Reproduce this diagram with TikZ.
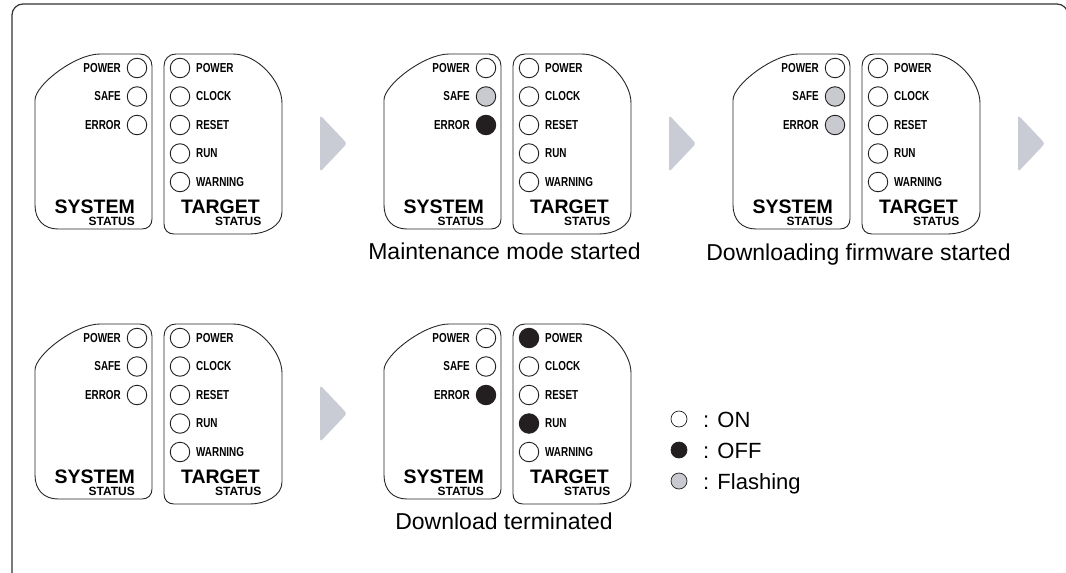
\documentclass[tikz,border=0pt]{standalone}
\usepackage{fontspec}
\setmainfont{Liberation Sans}
\usepackage{graphicx}
\definecolor{ledblack}{HTML}{231F20}
\definecolor{ledgrey}{HTML}{C8CAD0}
\definecolor{arrowgrey}{HTML}{C9CCD4}
\definecolor{ledline}{HTML}{231F20}
\newcommand\fsz[1]{\fontsize{#1}{#1}\selectfont}
\newcommand\nar[1]{\scalebox{0.76}[1]{#1}}
\tikzset{
  panel/.style={draw=black!85, line width=0.9pt},
  led/.style={circle, draw=ledline, line width=0.9pt, minimum size=19.5pt, inner sep=0pt},
  lbl/.style={inner sep=0pt, font=\bfseries\fsz{13}},
  bigtext/.style={inner sep=0pt, font=\bfseries\fsz{19.5}},
  stattext/.style={inner sep=0pt, font=\bfseries\fsz{12}},
  captext/.style={inner sep=0pt, font=\fsz{23}},
  legtext/.style={inner sep=0pt, font=\fsz{22}, anchor=base west},
  legled/.style={circle, draw=ledline, line width=0.7pt, minimum size=16pt, inner sep=0pt},
  nextarrow/.style={fill=arrowgrey, rounded corners=3pt},
  frame/.style={draw=black!80, line width=1.2pt, rounded corners=11pt},
}
\newcommand\statusgroup[5]{%
\begin{scope}[shift={(#2,#3)}]
\draw[panel] (35,100) .. controls (35,85) and (75,54) .. (100,54) -- (140,54) .. controls (147,54) and (152,59) .. (152,66) -- (152,219) .. controls (152,225) and (148,229) .. (142,229) -- (58,229) .. controls (44,229) and (35,220) .. (35,205) -- cycle;
\draw[panel] (164,66) .. controls (164,59) and (169,54) .. (176,54) -- (233,54) .. controls (258,54) and (282,82) .. (282,103) -- (282,212) .. controls (282,226) and (265,234) .. (250,234) -- (174,234) .. controls (168,234) and (164,230) .. (164,224) -- cycle;
\foreach \c [count=\i] in {#4} {\node[led,fill=\c] (#1s\i) at (137,{68+28.5*(\i-1)}) {};}
\foreach \lbltxt [count=\i] in {POWER,SAFE,ERROR} {\node[lbl,anchor=east] (#1sl\i) at (121,{68+28.5*(\i-1)}) {\nar{\lbltxt}};}
\foreach \c [count=\i] in {#5} {\node[led,fill=\c] (#1t\i) at (180,{68+28.5*(\i-1)}) {};}
\foreach \lbltxt [count=\i] in {POWER,CLOCK,RESET,RUN,WARNING} {\node[lbl,anchor=west] (#1tl\i) at (196,{68+28.5*(\i-1)}) {\nar{\lbltxt}};}
\node[bigtext,anchor=base east] (#1sys) at (135,213) {SYSTEM};
\node[stattext,anchor=base east] (#1sst) at (135,225) {STATUS};
\node[bigtext,anchor=base east] (#1tgt) at (260,213) {TARGET};
\node[stattext,anchor=base east] (#1tst) at (261.5,225.5) {STATUS};
\end{scope}}
\begin{document}
\begin{tikzpicture}[x=1pt,y=-1pt]
\useasboundingbox (0,0) rectangle (1066,573);
\clip (0,0) rectangle (1066,573);
\fill[white] (0,0) rectangle (1066,573);
\draw[frame] (12,600) -- (12,4) -- (1068,4) -- (1068,600);
\statusgroup{a}{0}{0}{white,white,white}{white,white,white,white,white}
\statusgroup{b}{349}{0}{white,ledgrey,ledblack}{white,white,white,white,white}
\statusgroup{c}{698}{0}{white,ledgrey,ledgrey}{white,white,white,white,white}
\statusgroup{d}{0}{270}{white,white,white}{white,white,white,white,white}
\statusgroup{e}{349}{270}{white,white,ledblack}{ledblack,white,white,ledblack,white}
\foreach \ox/\oy in {0/0,349/0,698/0,0/270} {
  \fill[nextarrow] (320+\ox,115+\oy) -- (347+\ox,143.5+\oy) -- (320+\ox,172+\oy) -- cycle;
}
\node[captext,anchor=base] (capb) at (504.5,259) {Maintenance mode started};
\node[captext,anchor=base] (capc) at (858.5,260) {Downloading firmware started};
\node[captext,anchor=base] (cape) at (504,529) {Download terminated};
\node[legled,fill=white] (lon) at (679,419) {};
\node[legled,fill=ledblack] (loff) at (679,450) {};
\node[legled,fill=ledgrey] (lfl) at (679,481) {};
\node[legtext] (ton) at (703,427) {: ON};
\node[legtext] (toff) at (703,458) {: OFF};
\node[legtext] (tfl) at (703,489) {: Flashing};
\end{tikzpicture}
\end{document}
